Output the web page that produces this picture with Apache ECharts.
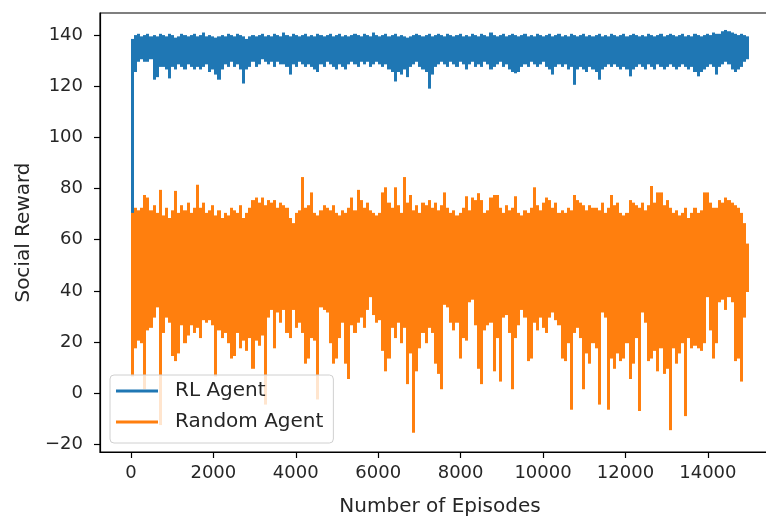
<!DOCTYPE html>
<html><head><meta charset="utf-8">
<script src="https://cdn.jsdelivr.net/npm/echarts@6/dist/echarts.min.js"></script>
<style>html,body{margin:0;padding:0;background:#fff}#chart{width:766px;height:516px}</style>
</head><body><div id="chart"></div>
<script>
// Episodes per sample slot; each slot holds the lowest and highest reading of the noisy curve in it
const EPISODE_STEP = 75;

const rlHigh = [
138,139.5,140,139,139.5,140,139,139.5,139,140,
139.5,139,140,139.5,138.5,139,140,139.5,139,139.5,
140,139,139.5,140.5,139,139.5,139,138.5,139,139.5,
139,140,139.5,139,140,139.5,139,138,139,139.5,
139,139.5,140,139,139.5,139,140,139.5,139,140.5,
139.5,139,140,139.5,139,139.5,140,139,139.5,139,
140,139.5,139,139.5,140,139,139.5,140,139,139.5,
139,139.5,140,139.5,139,140,139.5,139,140.5,139.5,
139,139.5,140,139,139.5,140,139,139.5,139,138.5,
139,139.5,140,139.5,139,139.5,140,139,139.5,140,
139.5,139,140,139.5,139,139.5,140,139,139.5,139,
140,139.5,139,140,139.5,139,140.5,139.5,139,139.5,
140,139,139.5,140,139.5,139,139.5,140,139,139.5,
139,140,139.5,139,139.5,140,139,139.5,140,139,
139.5,139,140,139.5,139,139.5,140,139,139.5,139,
139.5,140,139,139.5,139,140,139.5,139,139.5,140,
139,139.5,140,139.5,139,139.5,139,140,139.5,139,
139.5,140,139,139.5,140,139.5,139,139.5,140,139,
139.5,139,140,139.5,139,139.5,140,139.5,140.5,140,
140,141,141.5,141,140.5,140,139.5,140,139.5,139
];
const rlLow = [
70,126,130,131,130,130,131,123,124,128,
128,127,123.5,128,127,129,128,127,129,128,
127,128,127,128,129,126,127,125,123,127,
129,128,130,128,129,127,121.5,127,128,130,
128,129,131,130,129,130,128,130,129,129,
128,125,129,128,130,129,128,129,128,127,
126,129,128,130,129,128,127,129,128,127,
129,130,129,128,130,129,130,128,129,130,
129,128,129,127,126,122.3,126,125,127,124,
128,129,130,128,127,126,119.5,125,128,129,
130,129,128,130,129,128,130,129,127,129,
130,128,129,128,130,129,127,128,129,130,
128,129,127,126,125.5,126,128,129,128,130,
129,128,129,130,128,127,125,128,129,128,
129,127,128,121,127,128,127,126,128,127,
126,123,127,128,129,128,129,128,127,128,
127,124.3,127,128,129,128,127,129,128,127,
129,128,127,128,129,128,127,128,129,128,
127,128,126,124.3,126,127,128,129,128,125,
128,129,130,129,127,126,127,128,130,131
];
const randomHigh = [
70,72,71,72,77,76,71,73,70,79,
69,72,68,71,78.6,70,73,71,74,70,
72,81,72,74,70,71,73,69,71,68,
70,69,72,71,70,73,68,70,72,75,
76,74,76,73,75,74,75,72,74,73,
72,68,66,70,71,84,72,73,78,70,
69,71,73,72,71,73,70,69,71,70,
72,76,71,79,75,72,74,71,70,69,
70,78,80,74,72,80,73,70,84,74,
77,71,73,70,74,73,75,72,74,71,
73,78,72,70,71,69,70,72,76.5,71,
76,75,77.7,75,70,71,76,77,77,72,
70,73,71,72,76.5,70,69,71,70,72,
80,73,71,74,76,75,72,74,70,71,
70,72,71,77,75,74,73,71,73,72,
72,71,74,70,72,77,73,74,70,69,
70,75,74,73,72,74,71,73,80.5,74,
78,78,73,75,72,70,71,69,70,72,
68,70,72,70,71,78,78,74,72,72,
75,74,76,75,74,73,72,70,66,58
];
const randomLow = [
7,18,21,20,2,25,26,30,34,-12,
24,30,28,15,13,16,27,20,23,27,
24,26,22,29,28,29,27,7,25,22,
24,20,14,15,24,18,21,17,22,10,
21,19,23,-4,30,33,18,32,28,33,
24,22,33,26,28,24,12,14,22,21,
-2,34,33,32,20,12,14,22,28,12,
6,27,24,28,30,26,33,38,31,28,
29,17,9,14,26,22,28,20,26,4,
16,-15,9,18,24,20,26,24,12,8,
2,35,34,28,25,28,14,22,21,36,
37,27,10,4,25,27,28,9,22,5,
30,31,24,2,22,27,33,30,13,14,
28,25,30,26,24,30,32,29,27,14,
13,20,-6,24,26,22,2,16,12,20,
18,-4,32,30,-6,14,10,16,13,14,
20,6,12,22,-6.5,32,28,13,14,17,
9,18,8,10,-14,18,12,16,20,-8.5,
22,18,19,18,17,20,38,25,14,20,
36,37,33,38,36,13,14,5,30,40
];
const seriesNames = ['RL Agent', 'Random Agent'];
const seriesColors = ['#1f77b4', '#ff7f0e'];
const xTicks = [0, 2000, 4000, 6000, 8000, 10000, 12000, 14000];
const yTicks = [-20, 0, 20, 40, 60, 80, 100, 120, 140];

function slots(low, high) {
  return low.map((v, k) => [k * EPISODE_STEP, v, high[k]]);
}

// Each slot: a vertical run of the dense line, from its lowest to its highest reading
function makeRender(color) {
  return function (params, api) {
    const ep = api.value(0);
    const top = api.coord([ep, api.value(2)]);
    const bot = api.coord([ep, api.value(1)]);
    const next = api.coord([ep + EPISODE_STEP, api.value(2)]);
    const x0 = Math.round(top[0]);
    const x1 = Math.round(next[0]);
    return {
      type: 'rect',
      shape: { x: x0, y: top[1] - 1.2, width: Math.max(1, x1 - x0), height: bot[1] - top[1] + 2.4 },
      style: { fill: color }
    };
  };
}

const FONT = 'DejaVu Sans';
const TXT = '#262626';
const axisLineStyle = { color: '#000', width: 1.2 };
const fmt = v => String(v).replace('-', '\u2212');

const chart = echarts.init(document.getElementById('chart'), null, { renderer: 'canvas' });
chart.setOption({
  animation: false,
  backgroundColor: '#fff',
  grid: { left: 100, top: 13, width: 680, height: 439, show: true, borderColor: '#000', borderWidth: 1.2,
          backgroundColor: 'transparent', containLabel: false, outerBoundsMode: 'none' },
  legend: {
    orient: 'vertical', left: 110, top: 375,
    data: seriesNames,
    icon: 'rect', itemWidth: 42, itemHeight: 3, itemGap: 7,
    padding: [4, 10, 9, 6],
    backgroundColor: 'rgba(255,255,255,0.8)',
    borderColor: '#d0d0d0', borderWidth: 1, borderRadius: 4,
    textStyle: { fontFamily: FONT, fontSize: 20, color: TXT, lineHeight: 24, padding: [0, 0, 0, 12] }
  },
  xAxis: {
    type: 'value', min: -750, max: 15750,
    name: 'Number of Episodes', nameLocation: 'middle', nameGap: 45,
    nameTextStyle: { fontFamily: FONT, fontSize: 20, color: TXT },
    axisLine: { show: true, onZero: false, lineStyle: axisLineStyle },
    axisTick: { show: true, length: 6, inside: false, customValues: xTicks, lineStyle: axisLineStyle },
    axisLabel: { customValues: xTicks, formatter: fmt, fontFamily: FONT, fontSize: 18, color: TXT, margin: 12 },
    splitLine: { show: false }
  },
  yAxis: {
    type: 'value', min: -23, max: 148.6,
    name: 'Social Reward', nameLocation: 'middle', nameGap: 66, nameRotate: 90,
    nameTextStyle: { fontFamily: FONT, fontSize: 20, color: TXT },
    axisLine: { show: true, onZero: false, lineStyle: axisLineStyle },
    axisTick: { show: true, length: 6, inside: false, customValues: yTicks, lineStyle: axisLineStyle },
    axisLabel: { customValues: yTicks, formatter: fmt, fontFamily: FONT, fontSize: 18, color: TXT, margin: 17 },
    splitLine: { show: false }
  },
  series: [
    {
      name: seriesNames[0], type: 'custom', clip: true,
      itemStyle: { color: seriesColors[0] },
      encode: { x: 0, y: [1, 2] },
      renderItem: makeRender(seriesColors[0]),
      data: slots(rlLow, rlHigh)
    },
    {
      name: seriesNames[1], type: 'custom', clip: true,
      itemStyle: { color: seriesColors[1] },
      encode: { x: 0, y: [1, 2] },
      renderItem: makeRender(seriesColors[1]),
      data: slots(randomLow, randomHigh)
    }
  ]
});
</script>
</body></html>
